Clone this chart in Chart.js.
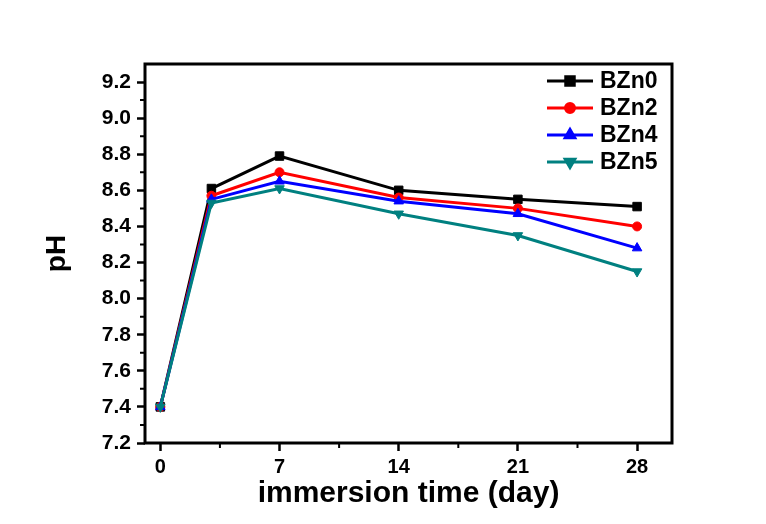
<!DOCTYPE html>
<html>
<head>
<meta charset="utf-8">
<script src="https://cdn.jsdelivr.net/npm/chart.js@4/dist/chart.umd.min.js"></script>
<style>
	html, body { margin: 0; padding: 0; background: #fff; }
	#wrap { width: 766px; height: 524px; }
</style>
</head>
<body>
<div id="wrap"><canvas id="phChart" width="766" height="524"></canvas></div>
<script>
// immersion days and pH readings per sample
const days = [0, 3, 7, 14, 21, 28]
const bzn0 = [7.40, 8.61, 8.79, 8.60, 8.55, 8.51]
const bzn2 = [7.40, 8.57, 8.70, 8.56, 8.50, 8.40]
const bzn4 = [7.40, 8.55, 8.65, 8.54, 8.47, 8.28]
const bzn5 = [7.40, 8.53, 8.61, 8.47, 8.35, 8.15]
const xTicks = [0, 7, 14, 21, 28]
const yTicks = [7.2, 7.4, 7.6, 7.8, 8.0, 8.2, 8.4, 8.6, 8.8, 9.0, 9.2]
const xMinor = [3.5, 10.5, 17.5, 24.5]
const yMinor = [7.3, 7.5, 7.7, 7.9, 8.1, 8.3, 8.5, 8.7, 8.9, 9.1]

const FONT = '"Liberation Sans", Arial, sans-serif'

const points = vals => days.map((d, i) => ({ x: d, y: vals[i] }))

const series = [
	{ label: 'BZn0', color: '#000000', style: 'rect', radius: 6, rot: 0, data: bzn0 },
	{ label: 'BZn2', color: '#ff0000', style: 'circle', radius: 4.5, rot: 0, data: bzn2 },
	{ label: 'BZn4', color: '#0000ff', style: 'triangle', radius: 5.5, rot: 0, data: bzn4 },
	{ label: 'BZn5', color: '#008080', style: 'triangle', radius: 5.5, rot: 180, data: bzn5 }
]

// frame + minor ticks + legend (line-marker-line)
const framePlugin = {
	id: 'frame',
	afterDatasetsDraw(chart) {
		const { ctx, chartArea: a, scales } = chart
		ctx.save()
		ctx.strokeStyle = '#000'
		ctx.lineWidth = 3
		ctx.strokeRect(a.left, a.top, a.right - a.left, a.bottom - a.top)

		// minor ticks
		ctx.lineWidth = 2
		ctx.beginPath()
		xMinor.forEach(v => {
			const px = scales.x.getPixelForValue(v)
			ctx.moveTo(px, a.bottom)
			ctx.lineTo(px, a.bottom + 5)
		})
		yMinor.forEach(v => {
			const py = scales.y.getPixelForValue(v)
			ctx.moveTo(a.left, py)
			ctx.lineTo(a.left - 5, py)
		})
		ctx.stroke()

		// legend
		const x0 = a.right - 125
		ctx.font = 'bold 23px ' + FONT
		ctx.textBaseline = 'middle'
		chart.data.datasets.forEach((ds, i) => {
			const y = a.top + 17 + i * 27
			ctx.strokeStyle = ds.borderColor
			ctx.lineWidth = 3
			ctx.beginPath()
			ctx.moveTo(x0, y)
			ctx.lineTo(x0 + 46, y)
			ctx.stroke()
			ctx.fillStyle = ds.pointBackgroundColor
			ctx.strokeStyle = ds.pointBorderColor
			Chart.helpers.drawPoint(ctx, {
				pointStyle: ds.pointStyle,
				radius: ds.pointRadius,
				rotation: ds.pointRotation,
				borderWidth: 1
			}, x0 + 23, y)
			ctx.fillStyle = '#000'
			ctx.fillText(ds.label, x0 + 53, y + 1)
		})
		ctx.restore()
	}
}

new Chart(document.getElementById('phChart'), {
	type: 'line',
	data: {
		datasets: series.map((s, i) => ({
			label: s.label,
			data: points(s.data),
			borderColor: s.color,
			backgroundColor: s.color,
			pointBackgroundColor: s.color,
			pointBorderColor: s.color,
			pointStyle: s.style,
			pointRadius: s.radius,
			pointRotation: s.rot,
			pointBorderWidth: 1,
			borderWidth: 3,
			tension: 0,
			order: series.length - i
		}))
	},
	options: {
		responsive: false,
		animation: false,
		devicePixelRatio: 1,
		layout: { padding: { top: 64, right: 94, left: 0, bottom: 0 } },
		plugins: {
			legend: { display: false },
			tooltip: { enabled: false }
		},
		scales: {
			x: {
				type: 'linear',
				min: -0.9,
				max: 30.05,
				afterBuildTicks: scale => { scale.ticks = xTicks.map(v => ({ value: v })) },
				afterFit: scale => { scale.height = 81 },
				border: { display: false },
				grid: { drawOnChartArea: false, drawTicks: true, tickLength: 8, tickWidth: 2.5, tickColor: '#000' },
				ticks: {
					color: '#000',
					padding: 4,
					maxRotation: 0,
					font: { family: FONT, size: 20, weight: 'bold' }
				},
				title: {
					display: true,
					text: 'immersion time (day)',
					color: '#000',
					padding: { top: 0, bottom: 12 },
					font: { family: FONT, size: 30, weight: 'bold' }
				}
			},
			y: {
				min: 7.2,
				max: 9.3,
				afterBuildTicks: scale => { scale.ticks = yTicks.map(v => ({ value: v })) },
				afterFit: scale => { scale.width = 145 },
				border: { display: false },
				grid: { drawOnChartArea: false, drawTicks: true, tickLength: 8, tickWidth: 2.5, tickColor: '#000' },
				ticks: {
					color: '#000',
					padding: 6,
					callback: v => v.toFixed(1),
					font: { family: FONT, size: 21, weight: 'bold' }
				},
				title: {
					display: true,
					text: 'pH',
					color: '#000',
					padding: { top: 40, bottom: 0 },
					font: { family: FONT, size: 28, weight: 'bold' }
				}
			}
		}
	},
	plugins: [framePlugin]
})
</script>
</body>
</html>
